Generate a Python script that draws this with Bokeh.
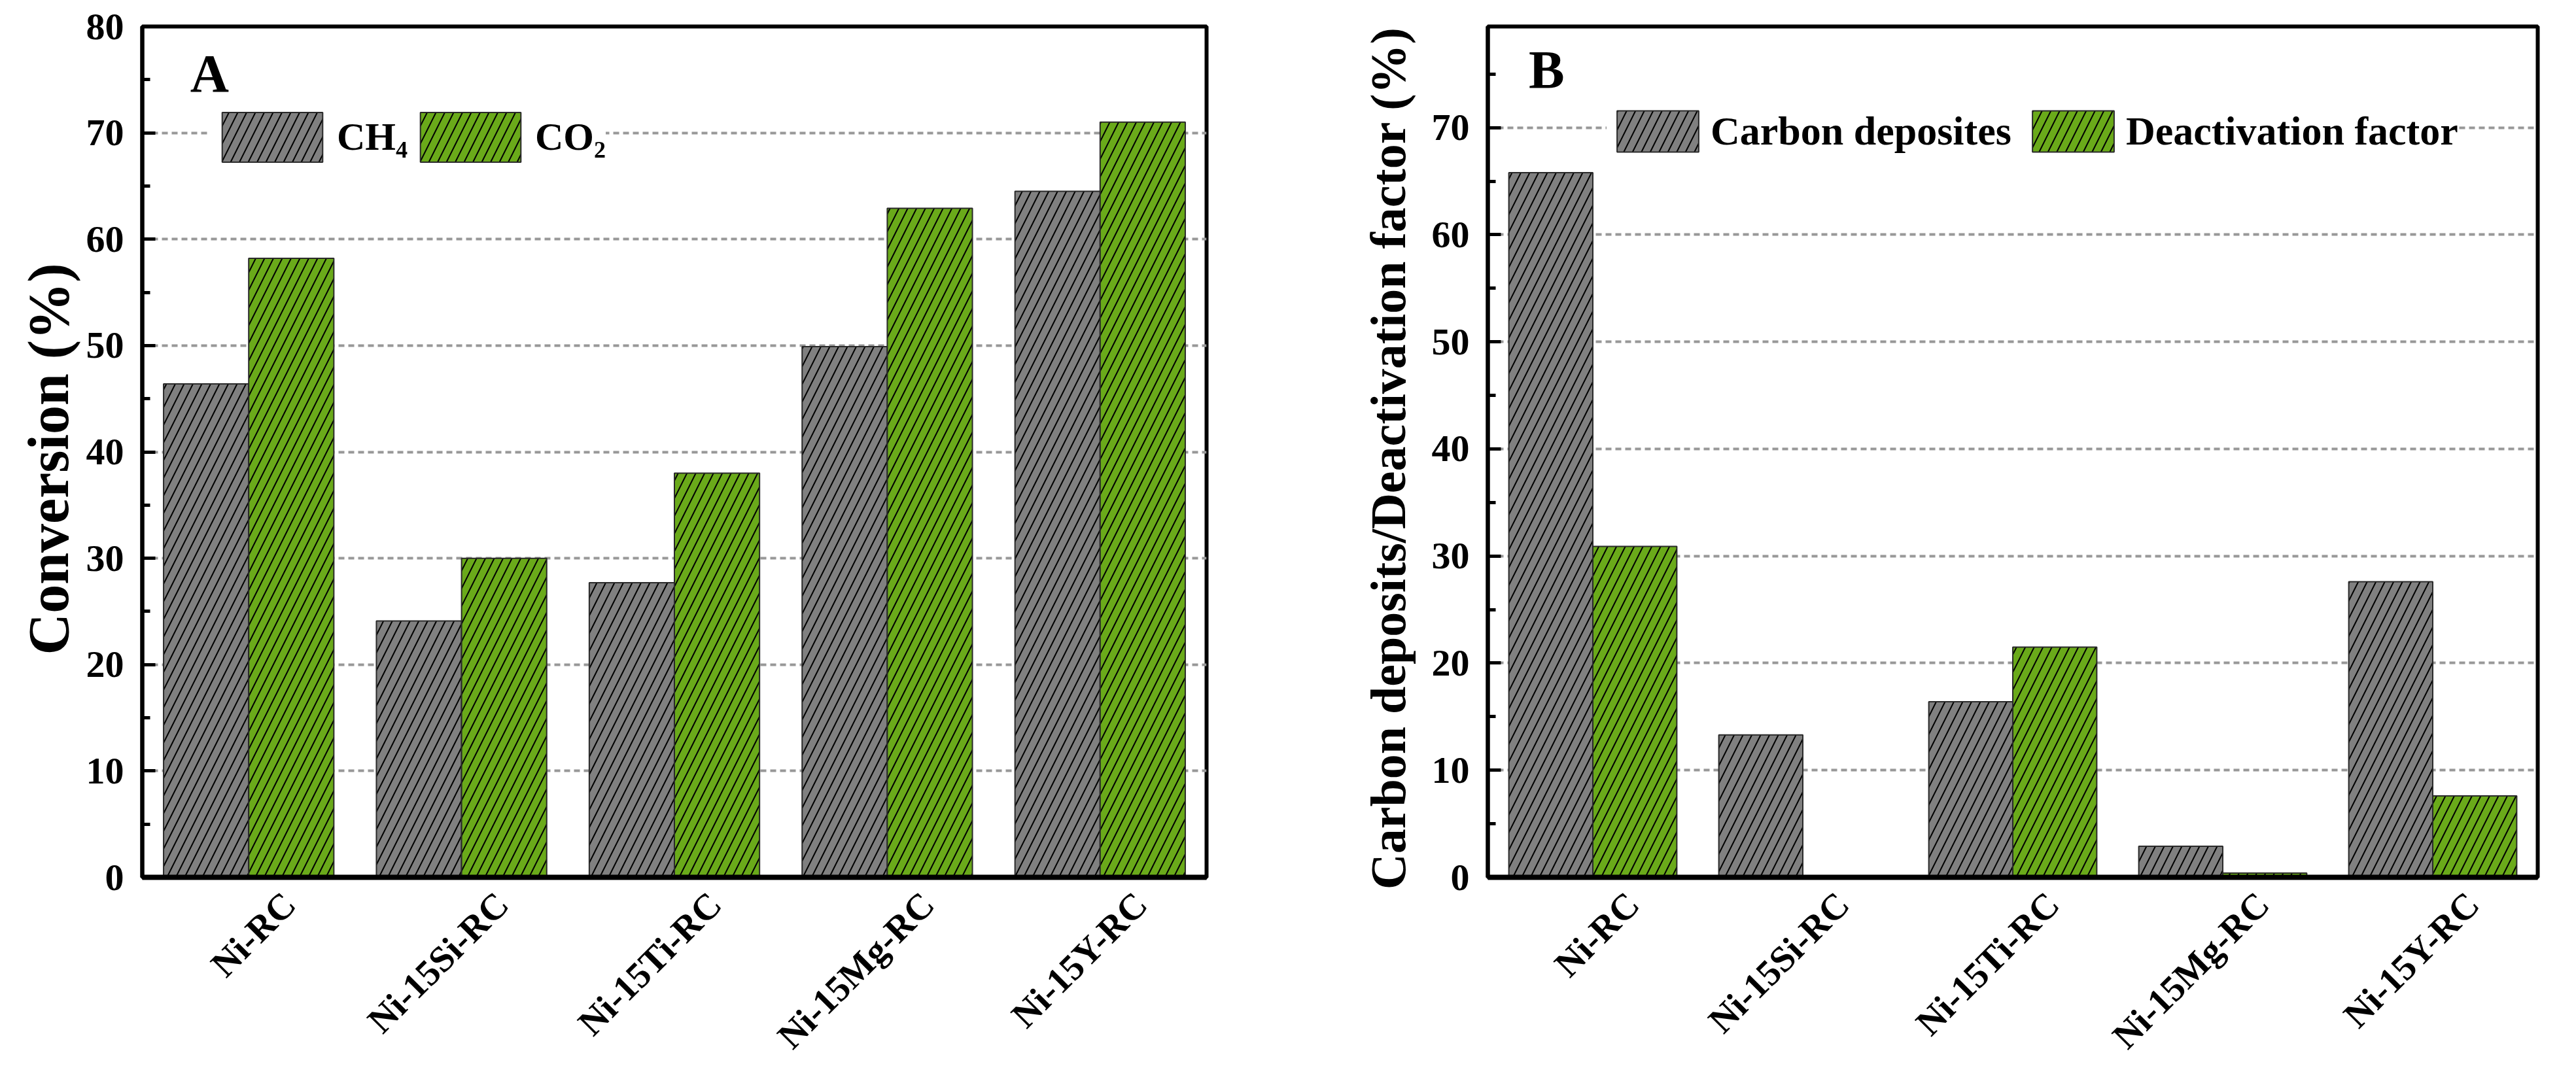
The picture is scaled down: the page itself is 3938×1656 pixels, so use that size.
import math
from bokeh.plotting import figure
from bokeh.layouts import row
from bokeh.models import (FactorRange, Range1d, SingleIntervalTicker, Legend,
                          LegendItem, Label, ColumnDataSource, LinearAxis,
                          FixedTicker)
from bokeh.transform import dodge
from bokeh.embed import file_html
from bokeh.resources import INLINE

# ---------------- data ----------------
catalysts = ["Ni-RC", "Ni-15Si-RC", "Ni-15Ti-RC", "Ni-15Mg-RC", "Ni-15Y-RC"]
ch4_conv = [46.4, 24.1, 27.7, 49.9, 64.5]
co2_conv = [58.2, 30.0, 38.0, 62.9, 71.0]
carbon_dep = [65.8, 13.3, 16.4, 2.9, 27.6]
deact_factor = [30.9, 0.0, 21.5, 0.4, 7.6]

FONT = "Liberation Serif"
GRAY = "#808080"
GREEN = "#6aaa1a"


def make_panel(width, border_left, border_right, y_end, ylabel, ylabel_size,
               ylabel_standoff, letter, letter_xy, s1, s2, n1, n2, leg_loc,
               glyph_w, glyph_h, leg_font, standoff, spacing):
    src = ColumnDataSource(dict(cat=catalysts, a=s1, b=s2))
    p = figure(x_range=FactorRange(*catalysts, range_padding=0),
               y_range=Range1d(0, y_end),
               width=width, height=1640, x_axis_location=None,
               min_border_left=border_left, min_border_right=border_right,
               min_border_top=40, min_border_bottom=296,
               toolbar_location=None, output_backend="svg")
    p.outline_line_color = "black"
    p.outline_line_width = 6
    p.background_fill_color = "white"
    p.border_fill_color = "white"

    common = dict(width=0.4, line_color="#2a2a2a", line_width=2,
                  hatch_pattern="/", hatch_color="black", hatch_weight=2,
                  hatch_scale=27, hatch_alpha=1.0)
    r1 = p.vbar(x=dodge("cat", -0.2, range=p.x_range), top="a", source=src,
                fill_color=GRAY, **common)
    r2 = p.vbar(x=dodge("cat", 0.2, range=p.x_range), top="b", source=src,
                fill_color=GREEN, **common)

    # grid
    p.xgrid.grid_line_color = None
    p.ygrid.grid_line_color = "#989898"
    p.ygrid.grid_line_width = 4
    p.ygrid.grid_line_dash = "9 6"

    # y axis
    yax = p.yaxis[0]
    yax.ticker = SingleIntervalTicker(interval=10, num_minor_ticks=2)
    yax.axis_label = ylabel
    yax.axis_label_text_font = FONT
    yax.axis_label_text_font_style = "bold"
    yax.axis_label_text_color = "black"
    yax.axis_label_text_font_size = ylabel_size
    yax.axis_label_standoff = ylabel_standoff
    yax.major_label_text_font = FONT
    yax.major_label_text_font_style = "bold"
    yax.major_label_text_color = "black"
    yax.major_label_text_font_size = "58px"
    yax.major_label_standoff = 28
    yax.major_tick_in = 20
    yax.major_tick_out = 0
    yax.minor_tick_in = 12
    yax.minor_tick_out = 0
    yax.major_tick_line_width = 5
    yax.minor_tick_line_width = 5
    yax.axis_line_width = 6

    # x axis: category names, labels anchored a little right of each group
    n = len(catalysts)
    tick_pos = [round(i + 0.69, 2) for i in range(n)]
    xax = LinearAxis(ticker=FixedTicker(ticks=tick_pos),
                     major_label_overrides={t: c for t, c in zip(tick_pos, catalysts)})
    xax.major_label_orientation = math.pi / 4
    xax.major_label_text_font = FONT
    xax.major_label_text_font_style = "bold"
    xax.major_label_text_color = "black"
    xax.major_label_text_font_size = "56px"
    xax.major_label_standoff = 26
    xax.major_tick_line_color = None
    xax.minor_tick_line_color = None
    xax.axis_line_width = 8
    xax.axis_line_color = "black"
    p.add_layout(xax, "below")

    leg = Legend(items=[LegendItem(label=n1, renderers=[r1]),
                        LegendItem(label=n2, renderers=[r2])],
                 orientation="horizontal", location=leg_loc,
                 glyph_width=glyph_w, glyph_height=glyph_h,
                 label_height=glyph_h,
                 label_text_font=FONT, label_text_font_style="bold",
                 label_text_font_size=leg_font, label_text_color="black",
                 label_standoff=standoff, spacing=spacing, padding=8, margin=0,
                 border_line_color=None, background_fill_color="white",
                 background_fill_alpha=1.0)
    p.add_layout(leg, "center")

    lab = Label(x=letter_xy[0], y=letter_xy[1], text=letter, text_font=FONT,
                text_font_style="bold", text_font_size="82px",
                text_baseline="alphabetic", text_color="black")
    p.add_layout(lab)
    return p


pA = make_panel(1990, 217, 146, 80, "Conversion  (%)", "88px", 6, "A",
                (0.225, 75.6), ch4_conv, co2_conv, "CH\u2084", "CO\u2082",
                (103, 1084), 192, 95, "60px", 3, 0)
pB = make_panel(1922, 284, 33, 79.45,
                "Carbon deposits/Deactivation factor  (%)", "76px", 22, "B",
                (0.195, 75.4), carbon_dep, deact_factor, "Carbon deposites",
                "Deactivation factor", (182, 1101), 156, 79, "62px", 3, 16)

layout = row(pA, pB)
open("out.html", "w").write(file_html(layout, INLINE))
